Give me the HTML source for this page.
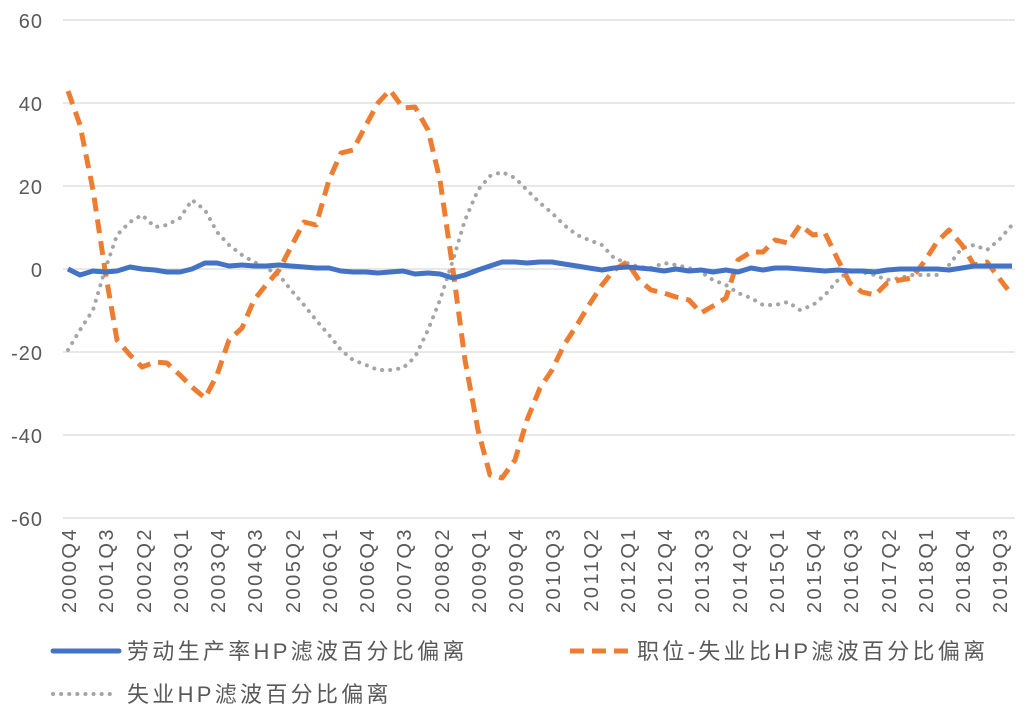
<!DOCTYPE html>
<html><head><meta charset="utf-8"><style>
body{margin:0;background:#fff;}
svg text{font-family:"Liberation Sans","Noto Sans CJK SC",sans-serif;fill:#595959;}
</style></head><body>
<svg width="1024" height="716" viewBox="0 0 1024 716" xmlns="http://www.w3.org/2000/svg">
<g stroke="#d9d9d9" stroke-width="1.3">
<line x1="63" y1="20" x2="1015" y2="20"/><line x1="63" y1="103" x2="1015" y2="103"/>
<line x1="63" y1="186" x2="1015" y2="186"/><line x1="63" y1="269" x2="1015" y2="269"/>
<line x1="63" y1="352" x2="1015" y2="352"/><line x1="63" y1="435" x2="1015" y2="435"/>
<line x1="63" y1="518" x2="1015" y2="518"/>
</g>
<g font-size="20" text-anchor="end" letter-spacing="1">
<text x="43" y="28">60</text><text x="43" y="111">40</text><text x="43" y="194">20</text>
<text x="43" y="277">0</text><text x="43" y="360">-20</text><text x="43" y="443">-40</text><text x="43" y="526">-60</text>
</g>
<polyline fill="none" stroke="#a5a5a5" stroke-width="4" stroke-dasharray="0.1 8" stroke-linecap="round" points="68,350 80,330 93,310 105,270 117,235 130,222 142,215 155,227 167,225 180,218 192,200 205,210 217,232 229,245 242,255 254,262 266,268 279,275 291,290 304,305 316,320 329,335 341,350 353,360 366,365 378,370 390,370 403,368 415,357 428,330 440,300 453,260 465,220 478,190 490,176 502,172 515,178 527,190 540,203 552,213 564,225 577,235 589,240 602,245 614,258 627,263 639,267 651,268 664,263 676,265 689,268 701,272 713,280 726,285 738,293 751,298 763,305 775,305 788,302 800,310 813,305 825,295 838,280 850,270 862,272 875,275 887,280 900,278 912,275 924,275 937,275 949,265 962,248 974,245 987,250 999,240 1012,225"/>
<polyline fill="none" stroke="#ed7d31" stroke-width="5" stroke-dasharray="14 8" stroke-linejoin="round" points="68,91 80,125 93,190 105,270 117,340 130,355 142,367 155,362 167,363 180,375 192,387 205,398 217,375 229,340 242,328 254,300 266,285 279,270 291,247 304,222 316,225 329,180 341,153 353,150 366,125 378,103 390,90 403,108 415,107 428,130 440,180 453,270 465,360 478,430 490,475 502,478 515,460 527,420 540,388 552,370 564,345 577,325 589,305 602,285 614,270 627,262 639,280 651,290 664,293 676,297 689,300 701,313 713,306 726,298 738,260 751,252 763,252 775,240 788,243 800,225 813,235 825,233 838,260 850,283 862,292 875,295 887,283 900,280 912,278 924,262 937,242 949,230 962,245 974,265 987,262 999,278 1012,295"/>
<polyline fill="none" stroke="#4472c4" stroke-width="5" stroke-linejoin="round" points="68,269 80,275 93,271 105,272 117,271 130,267 142,269 155,270 167,272 180,272 192,269 205,263 217,263 229,266 242,265 254,266 266,266 279,265 291,266 304,267 316,268 329,268 341,271 353,272 366,272 378,273 390,272 403,271 415,274 428,273 440,274 453,278 465,275 478,270 490,266 502,262 515,262 527,263 540,262 552,262 564,264 577,266 589,268 602,270 614,268 627,267 639,268 651,269 664,271 676,269 689,271 701,270 713,272 726,270 738,272 751,268 763,270 775,268 788,268 800,269 813,270 825,271 838,270 850,271 862,271 875,272 887,270 900,269 912,269 924,269 937,269 949,270 962,268 974,266 987,266 999,266 1012,266"/>
<line x1="53" y1="651" x2="119" y2="651" stroke="#4472c4" stroke-width="5" stroke-linecap="round"/>
<text x="127" y="659" font-size="22" letter-spacing="3.3">劳动生产率HP滤波百分比偏离</text>
<line x1="570" y1="651" x2="630" y2="651" stroke="#ed7d31" stroke-width="5" stroke-dasharray="14 8"/>
<text x="637" y="659" font-size="22" letter-spacing="3.3">职位-失业比HP滤波百分比偏离</text>
<line x1="53" y1="694" x2="115" y2="694" stroke="#a5a5a5" stroke-width="4" stroke-dasharray="0.1 8" stroke-linecap="round"/>
<text x="127" y="702" font-size="22" letter-spacing="3.3">失业HP滤波百分比偏离</text>
<g font-size="20" text-anchor="end" letter-spacing="2.5">
<text transform="translate(76,527) rotate(-90)">2000Q4</text>
<text transform="translate(113,527) rotate(-90)">2001Q3</text>
<text transform="translate(151,527) rotate(-90)">2002Q2</text>
<text transform="translate(188,527) rotate(-90)">2003Q1</text>
<text transform="translate(225,527) rotate(-90)">2003Q4</text>
<text transform="translate(262,527) rotate(-90)">2004Q3</text>
<text transform="translate(300,527) rotate(-90)">2005Q2</text>
<text transform="translate(337,527) rotate(-90)">2006Q1</text>
<text transform="translate(374,527) rotate(-90)">2006Q4</text>
<text transform="translate(411,527) rotate(-90)">2007Q3</text>
<text transform="translate(449,527) rotate(-90)">2008Q2</text>
<text transform="translate(486,527) rotate(-90)">2009Q1</text>
<text transform="translate(523,527) rotate(-90)">2009Q4</text>
<text transform="translate(560,527) rotate(-90)">2010Q3</text>
<text transform="translate(598,527) rotate(-90)">2011Q2</text>
<text transform="translate(635,527) rotate(-90)">2012Q1</text>
<text transform="translate(672,527) rotate(-90)">2012Q4</text>
<text transform="translate(709,527) rotate(-90)">2013Q3</text>
<text transform="translate(747,527) rotate(-90)">2014Q2</text>
<text transform="translate(784,527) rotate(-90)">2015Q1</text>
<text transform="translate(821,527) rotate(-90)">2015Q4</text>
<text transform="translate(858,527) rotate(-90)">2016Q3</text>
<text transform="translate(896,527) rotate(-90)">2017Q2</text>
<text transform="translate(933,527) rotate(-90)">2018Q1</text>
<text transform="translate(970,527) rotate(-90)">2018Q4</text>
<text transform="translate(1007,527) rotate(-90)">2019Q3</text>
</g>
</svg>
</body></html>
